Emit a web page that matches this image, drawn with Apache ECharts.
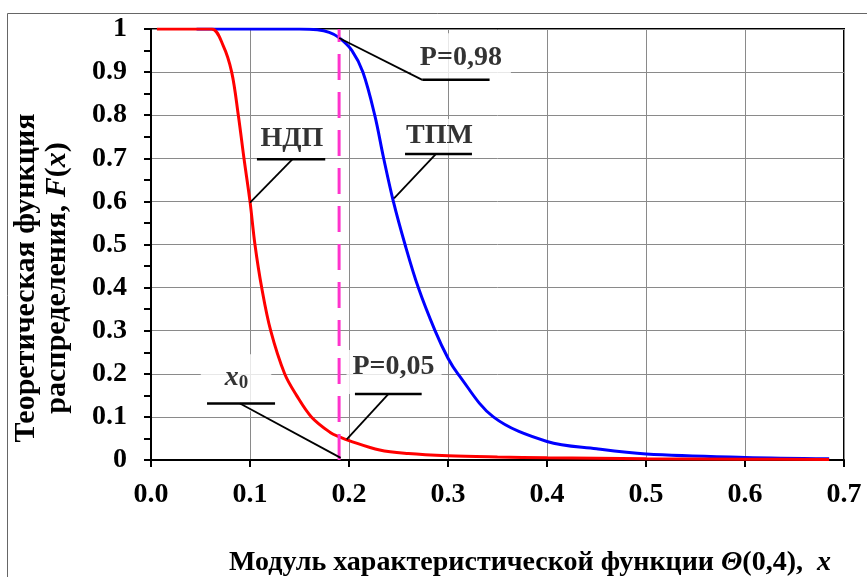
<!DOCTYPE html>
<html><head><meta charset="utf-8">
<script src="https://cdn.jsdelivr.net/npm/echarts@6/dist/echarts.min.js"></script>
<style>html,body{margin:0;padding:0;background:#fff}#c{width:867px;height:577px}</style>
</head><body><div id="c"></div>
<script>
// ---- data ----
const ndpX = [0.006, 0.03, 0.0613, 0.073, 0.0815, 0.0882, 0.0939, 0.1, 0.105, 0.1118, 0.1209, 0.135, 0.147, 0.162, 0.181, 0.191, 0.2, 0.231, 0.26, 0.3, 0.35, 0.4, 0.5, 0.6, 0.685];
const ndpY = [1, 1, 1, 0.961, 0.9, 0.8, 0.7, 0.6, 0.5, 0.4, 0.3, 0.2, 0.15, 0.1, 0.064, 0.053, 0.045, 0.023, 0.015, 0.01, 0.007, 0.005, 0.003, 0.002, 0.001];
const tpmX = [0.046, 0.1, 0.15, 0.168, 0.18, 0.19, 0.203, 0.214, 0.226, 0.235, 0.2448, 0.2566, 0.27, 0.2869, 0.3, 0.31, 0.3458, 0.4, 0.45, 0.5, 0.6, 0.685];
const tpmY = [1, 1, 1, 0.998, 0.992, 0.98, 0.95, 0.9, 0.8, 0.7, 0.6, 0.5, 0.4, 0.3, 0.236, 0.2, 0.1, 0.043, 0.026, 0.014, 0.006, 0.003];
const x0Value = 0.19;
const seriesNames = ['НДП', 'ТПМ'];
const xAxisTitle = ['Модуль характеристической функции ', 'Θ', '(0,4),  ', 'x'];
const yAxisTitle = ['Теоретическая функция', 'распределения, ', 'F', '(', 'x', ')'];

// ---- annotation layout (data coordinates) ----
const FONT = "'Liberation Serif','Times New Roman',serif";
const annLabels = [
  {text: 'P=0,98', at: [0.313, 0.937], pad: [10, 9, 6, 9]},
  {text: seriesNames[0], at: [0.1424, 0.745], pad: [2, 4, 2, 4]},
  {text: seriesNames[1], at: [0.2914, 0.752], pad: [2, 4, 2, 4]},
  {text: '{i|x}{s|0}', at: [0.0859, 0.179], pad: [8, 23, 19, 24]},
  {text: 'P=0,05', at: [0.2455, 0.204], pad: [2, 7, 12, 6]}
];
const underlines = [
  [[0.274, 0.882], [0.342, 0.882]],
  [[0.107, 0.698], [0.176, 0.698]],
  [[0.2566, 0.71], [0.3242, 0.71]],
  [[0.0566, 0.131], [0.1253, 0.131]],
  [[0.206, 0.153], [0.2734, 0.153]]
];
const leaders = [
  [[0.190, 0.979], [0.274, 0.882]],
  [[0.143, 0.698], [0.100, 0.597]],
  [[0.2879, 0.71], [0.2455, 0.607]],
  [[0.0899, 0.131], [0.1916, 0.005]],
  [[0.2397, 0.153], [0.1977, 0.048]]
];

const zip = (xs, ys) => xs.map((x, i) => [x, ys[i]]);
const labelFmt = {fontFamily: FONT, fontWeight: 'bold', fontSize: 28, color: '#000'};

const series = [
  {type: 'line', name: seriesNames[1], data: zip(tpmX, tpmY), smooth: 0.35,
   showSymbol: false, symbol: 'none', lineStyle: {color: '#0000ff', width: 3}, z: 2},
  {type: 'line', name: seriesNames[0], data: zip(ndpX, ndpY), smooth: 0.35,
   showSymbol: false, symbol: 'none', lineStyle: {color: '#ff0000', width: 3}, z: 3},
  {type: 'line', data: [[x0Value, 0], [x0Value, 1]], symbol: 'none',
   lineStyle: {color: '#ff33cc', width: 3, type: [26, 12]}, z: 4},
  {type: 'scatter', symbolSize: 0, z: 5,
   data: annLabels.map(a => ({value: a.at, label: {padding: a.pad}})),
   label: {show: true, position: 'inside', formatter: p => annLabels[p.dataIndex].text,
     backgroundColor: '#fff', lineHeight: 30, ...labelFmt,
     rich: {
       i: {fontFamily: FONT, fontWeight: 'bold', fontStyle: 'italic', fontSize: 28, lineHeight: 30, color: '#000'},
       s: {fontFamily: FONT, fontWeight: 'bold', fontSize: 19, lineHeight: 12, verticalAlign: 'bottom', color: '#000'}
     }}}
];
underlines.forEach(seg => series.push({type: 'line', data: seg, symbol: 'none', z: 6,
  lineStyle: {color: '#000', width: 2.5}}));
leaders.forEach(seg => series.push({type: 'line', data: seg, symbol: 'none', z: 6,
  lineStyle: {color: '#000', width: 1.8}}));

const axisCommon = {
  type: 'value',
  axisLine: {show: true, onZero: false, lineStyle: {color: '#000', width: 2}},
  axisTick: {show: true, inside: false, length: 7, lineStyle: {color: '#000', width: 2}},
  splitLine: {show: true, lineStyle: {color: '#8a8a8a', width: 1}}
};

const option = {
  animation: false,
  backgroundColor: '#fff',
  grid: {left: 151, top: 29, right: 23, bottom: 117, show: true, borderColor: '#000', borderWidth: 2},
  xAxis: Object.assign({}, axisCommon, {
    min: 0, max: 0.7, interval: 0.1,
    axisLabel: Object.assign({margin: 21, formatter: v => v.toFixed(1)}, labelFmt)
  }),
  yAxis: Object.assign({}, axisCommon, {
    min: 0, max: 1, interval: 0.1,
    minorTick: {show: true, splitNumber: 2, length: 7, lineStyle: {color: '#000', width: 2}},
    axisLabel: Object.assign({margin: 24, formatter: v => (Math.abs(v) < 1e-9 ? '0' : Math.abs(v - 1) < 1e-9 ? '1' : v.toFixed(1))}, labelFmt)
  }),
  graphic: [
    {type: 'rect', silent: true, z: -1, shape: {x: 7.5, y: 13.5, width: 900, height: 620},
     style: {fill: 'none', stroke: '#666', lineWidth: 1}},
    {type: 'text', x: 530, y: 563, z: 10,
     style: {text: '{a|' + xAxisTitle[0] + '}{i|' + xAxisTitle[1] + '}{a|' + xAxisTitle[2] + '}{i|' + xAxisTitle[3] + '}',
       align: 'center', verticalAlign: 'middle', textAlign: 'center', textVerticalAlign: 'middle',
       rich: {
         a: {fontFamily: FONT, fontWeight: 'bold', fontSize: 28, color: '#000'},
         i: {fontFamily: FONT, fontWeight: 'bold', fontStyle: 'italic', fontSize: 28, color: '#000'}
       }}},
    {type: 'text', x: 42, y: 278, rotation: Math.PI / 2, z: 10,
     style: {text: '{a|' + yAxisTitle[0] + '}\n{a|' + yAxisTitle[1] + '}{i|' + yAxisTitle[2] + '}{a|' + yAxisTitle[3] + '}{i|' + yAxisTitle[4] + '}{a|' + yAxisTitle[5] + '}',
       align: 'center', verticalAlign: 'middle', textAlign: 'center', textVerticalAlign: 'middle',
       rich: {
         a: {fontFamily: FONT, fontWeight: 'bold', fontSize: 30, lineHeight: 31, color: '#000'},
         i: {fontFamily: FONT, fontWeight: 'bold', fontStyle: 'italic', fontSize: 30, lineHeight: 31, color: '#000'}
       }}}
  ],
  series: series
};

const chart = echarts.init(document.getElementById('c'), null, {renderer: 'canvas'});
chart.setOption(option);
</script>
</body></html>
